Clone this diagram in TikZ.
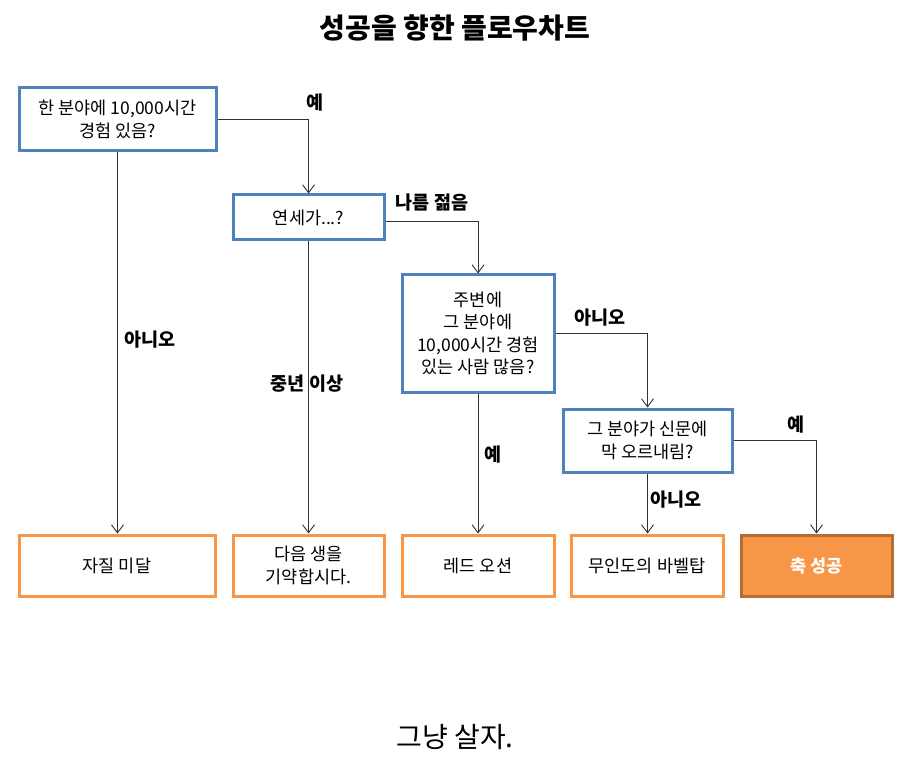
\documentclass[tikz,border=0pt]{standalone}
\usepackage{fontspec}
\setmainfont{Noto Sans CJK KR}
\usetikzlibrary{arrows.meta}
\definecolor{qblue}{HTML}{4F81BD}
\definecolor{qorange}{HTML}{F79646}
\definecolor{qdark}{HTML}{B66D31}
\begin{document}
\begin{tikzpicture}[x=1pt,y=-1pt,
  qbox/.style={draw=qblue,line width=3pt,fill=white,inner sep=0pt,align=center,font=\fontsize{17.5}{22.5}\selectfont},
  obox/.style={draw=qorange,line width=3pt,fill=white,inner sep=0pt,align=center,font=\fontsize{17.5}{22.5}\selectfont,minimum height=61pt},
  gbox/.style={draw=qdark,line width=3pt,fill=qorange,text=white,inner sep=0pt,align=center,font=\bfseries\fontsize{17.5}{22.5}\selectfont,minimum height=61pt},
  conn/.style={draw=black!80,line width=0.9pt,-{Straight Barb[length=8pt,width=12pt]}},
  lbl/.style={font=\bfseries\fontsize{18.5}{22}\selectfont}]
\useasboundingbox (0,0) rectangle (915,775);
% title
\node[font=\bfseries\fontsize{28}{32}\selectfont] (title) at (455,28) {성공을 향한 플로우차트};
% decision boxes
\node[qbox,minimum width=197pt,minimum height=63pt] (a) at (117.5,119.5) {한 분야에 10,000시간\\경험 있음?};
\node[qbox,minimum width=151pt,minimum height=45pt] (b) at (308.5,217.5) {연세가...?};
\node[qbox,minimum width=152pt,minimum height=117pt] (c) at (478,333.5) {주변에\\그 분야에\\10,000시간 경험\\있는 사람 많음?};
\node[qbox,minimum width=169pt,minimum height=63pt] (d) at (647.5,440.5) {그 분야가 신문에\\막 오르내림?};
% result boxes
\node[obox,minimum width=196pt] (e1) at (117,565.5) {자질 미달};
\node[obox,minimum width=151pt] (e2) at (308.5,565.5) {다음 생을\\기약합시다.};
\node[obox,minimum width=152pt] (e3) at (478,565.5) {레드 오션};
\node[obox,minimum width=152pt] (e4) at (647,565.5) {무인도의 바벨탑};
\node[gbox,minimum width=151pt] (e5) at (816.5,565.5) {축 성공};
% connectors
\draw[conn] (a.east) -| (b.north);
\draw[conn] (a.south) -- (a.south |- e1.north);
\draw[conn] ([yshift=-4pt]b.east) -| (c.north);
\draw[conn] (b.south) -- (b.south |- e2.north);
\draw[conn] (c.east) -| (d.north);
\draw[conn] (c.south) -- (c.south |- e3.north);
\draw[conn] (d.east) -| (e5.north);
\draw[conn] (d.south) -- (d.south |- e4.north);
% labels
\node[lbl] (l1) at (315,103) {예};
\node[lbl] (l2) at (150,340) {아니오};
\node[lbl] (l3) at (432,203) {나름 젊음};
\node[lbl] (l4) at (307,384) {중년 이상};
\node[lbl] (l5) at (600,318) {아니오};
\node[lbl] (l6) at (493,455) {예};
\node[lbl] (l7) at (796,425) {예};
\node[lbl] (l8) at (676,500) {아니오};
% footer
\node[font=\fontsize{28}{32}\selectfont] (foot) at (455,737) {그냥 살자.};
\end{tikzpicture}
\end{document}
